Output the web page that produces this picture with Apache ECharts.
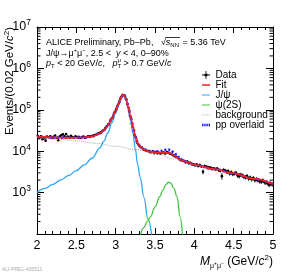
<!DOCTYPE html>
<html><head><meta charset="utf-8">
<script src="https://cdn.jsdelivr.net/npm/echarts@6/dist/echarts.min.js"></script>
<style>html,body{margin:0;padding:0;background:#fff}#c{width:288px;height:277px}</style>
</head><body><div id="c"></div>
<script>
// ---------- data ----------
const massBinStart = 2.01;   // first bin centre (GeV/c^2)
const massBinWidth = 0.02;
const dataCounts = [
 23500,21000,22800,19500,20500,18000,22500,21800,23000,20800,
 22200,24000,21000,18500,22800,24500,25500,23000,26000,22500,
 21500,23500,22000,21200,22800,21700,22300,20800,21900,22600,
 21200,22000,23000,22200,23100,23500,24500,25000,26500,27000,
 28500,30500,32500,36000,40500,45000,52500,62000,72000,90000,
 107000,132000,162000,200000,228000,225000,185000,138000,98000,67000,
 45000,32500,22500,17500,14500,13000,12200,11000,10800,10200,
 10100,9600,9400,9900,9000,9500,8900,9200,8700,9100,
 9300,8800,9500,9200,8700,8500,8000,7600,7300,6900,
 6400,6100,6000,5800,5400,5600,5100,5200,4900,4800,
 4600,4750,4400,4600,4300,3200,4400,4200,4100,4000,
 3950,3750,3800,3650,3800,3500,3400,2500,3500,3400,
 3200,3300,2900,3100,2800,2900,3000,2600,2500,2700,
 2600,2400,2350,2500,2200,2300,2100,2250,2000,2100,
 2000,1900,1850,1950,1800,1750,1700,1550,1650,1580];
const dataErrPct = [
 4,4,5,4,4,5,4,4,4,4, 4,4,4,5,4,4,4,4,4,4, 4,4,4,4,4,4,4,4,4,4,
 4,4,4,4,4,3,3,3,3,3, 3,3,3,2,2,2,2,2,2,2, 2,2,2,2,2,2,2,2,2,2,
 2,3,3,3,4,5,5,5,5,5, 5,5,6,6,6,6,6,6,6,6, 6,6,6,6,6,6,6,6,6,6,
 6,6,6,7,7,7,7,7,7,7, 8,8,8,8,8,14,8,9,9,9, 9,9,9,9,9,10,10,18,10,10,
 10,10,11,11,11,11,11,12,12,12, 12,12,12,12,12,12,12,12,12,12, 13,13,13,13,13,13,13,13,13,13];

const fitMass = [2.0,2.1,2.2,2.3,2.4,2.5,2.6,2.7,2.8,2.85,2.9,2.95,3.0,3.04,3.07,3.09,3.11,3.13,3.16,3.19,
 3.22,3.25,3.28,3.31,3.36,3.41,3.46,3.5,3.56,3.6,3.64,3.67,3.7,3.74,3.78,3.82,3.85,3.9,4.0,4.25,4.5,4.75,5.0];
const fitCounts = [22500,22000,21500,21200,21100,21200,21500,22700,27000,32000,41600,61600,96400,144800,203500,231400,226200,186000,116800,66500,
 38200,22200,15500,12900,10900,10060,9570,9350,9100,9050,9085,9078,8700,7860,7100,6260,5890,5500,4700,3700,2900,2150,1600];
const ppMass = fitMass;
const ppCounts = [22500,22000,21500,21200,21100,21200,21500,22700,27000,32000,41600,61600,96400,144800,203500,231400,226200,186000,116800,66500,
 38200,22200,15500,13000,11100,10300,9880,9840,9970,10300,10830,11030,10570,9250,7970,6540,5990,5500,4700,3700,2900,2150,1600];
const bkgMass = [2.0,2.25,2.5,2.75,3.0,3.25,3.5,3.75,4.0,4.25,4.5,4.75,5.0];
const bkgCounts = [21500,19500,17800,15500,13200,11000,8900,6500,4700,3700,2900,2150,1600];
const jpsiMass = [2.0,2.1,2.2,2.3,2.4,2.5,2.6,2.7,2.8,2.85,2.9,2.95,3.0,3.04,3.07,3.09,3.11,3.13,3.16,3.19,3.22,3.25,3.28,3.31,3.36,3.41,3.46];
const jpsiCounts = [1000,1260,1580,2000,2570,3390,4680,6760,12000,17400,27500,47900,83200,132000,191000,219000,214000,174000,105000,55000,26900,11200,4790,2400,760,229,89];
const psi2sMass = [3.31,3.36,3.4,3.44,3.5,3.56,3.6,3.64,3.67,3.7,3.74,3.78,3.82,3.85];
const psi2sCounts = [89,145,200,257,447,794,1150,1585,1778,1700,1259,794,257,89];

const xMin = 2, xMax = 5, xInterval = 0.5;
const yMin = 1e2, yMax = 1e7;
// ---------------------------------------------------

const zip = (xs, ys) => xs.map((x, i) => [x, ys[i]]);
const dataPts = dataCounts.map((c, i) => [massBinStart + i * massBinWidth, c, c * dataErrPct[i] / 100]);
const minorVals = [];
for (let e = 2; e < 7; e++) for (let k = 2; k <= 9; k++) minorVals.push([k * Math.pow(10, e)]);

const FONT = '"Liberation Sans", Arial, Helvetica, sans-serif';
const ctx = document.createElement('canvas').getContext('2d');
function fstr(s, it) { return (it ? 'italic ' : '') + s + 'px ' + FONT; }
function run(x, base, segs) {
  const els = []; let cx = x;
  for (const g of segs) {
    const f = fstr(g.s, g.i); ctx.font = f;
    const w = ctx.measureText(g.t).width;
    els.push({ type: 'text', x: cx, y: base + (g.dy || 0) - 0.31 * g.s, silent: true,
      style: { text: g.t, font: f, fill: '#000', verticalAlign: 'middle', align: 'left' } });
    if (!g.na) cx += w;
  }
  return { els, end: cx };
}

const S = 9;
const l1a = run(46, 45.5, [{ t: 'ALICE Preliminary, Pb–Pb,   ', s: S }]);
const sq = run(l1a.end, 45.5, [{ t: '√', s: S }]);
const l1b = run(sq.end, 45.5, [{ t: 's', s: S, i: true }, { t: 'NN', s: 6, dy: 2 }]);
const l1c = run(l1b.end + 1, 45.5, [{ t: ' = 5.36 TeV', s: S }]);
const l2 = run(46, 56.5, [{ t: 'J/ψ→μ', s: S }, { t: '+', s: 6, dy: -4 }, { t: 'μ', s: S }, { t: '−', s: 6, dy: -4 },
  { t: ', 2.5 <  ', s: S }, { t: 'y', s: S, i: true }, { t: ' < 4, 0–90%', s: S }]);
const l3 = run(46, 66.5, [{ t: 'p', s: S, i: true }, { t: 'T', s: 6, dy: 2 }, { t: ' < 20 GeV/', s: S }, { t: 'c', s: S, i: true },
  { t: ',   ', s: S }, { t: 'p', s: S, i: true }, { t: 'μ', s: 6, dy: -4, na: true }, { t: 'T', s: 6, dy: 2 },
  { t: ' > 0.7 GeV/', s: S }, { t: 'c', s: S, i: true }]);
const xtSegs = [{ t: 'M', s: 12, i: true }, { t: 'μ', s: 7, dy: 3 }, { t: '+', s: 5, dy: 0 }, { t: 'μ', s: 7, dy: 3 }, { t: '−', s: 5, dy: 0 },
  { t: ' (GeV/', s: 12 }, { t: 'c', s: 12, i: true }, { t: '2', s: 8, dy: -5 }, { t: ')', s: 12 }];
const probe = run(0, 0, xtSegs);
const xt = run(273 - probe.end, 265, xtSegs);

const graphics = [].concat(l1a.els, sq.els, l1b.els, l1c.els, l2.els, l3.els, xt.els, [
  { type: 'line', silent: true, shape: { x1: sq.end - 0.5, y1: 37.5, x2: l1b.end + 1, y2: 37.5 }, style: { stroke: '#000', lineWidth: 0.8 } },
  { type: 'text', x: 10, y: 27, rotation: Math.PI / 2, silent: true,
    style: { text: '{n|Events/(0.02 GeV/}{i|c}{s|2}{n|)}', align: 'right', verticalAlign: 'middle',
      rich: { n: { font: fstr(11.5), fill: '#000' }, i: { font: fstr(11.5, true), fill: '#000' }, s: { font: fstr(8), fill: '#000', padding: [0, 0, 7, 0] } } } },
  { type: 'text', x: 2, y: 270, silent: true, style: { text: 'ALI-PREL-400511', font: fstr(5), fill: '#aaa', verticalAlign: 'middle' } }
]);

// legend icons (10x10 box kept by tiny corner anchors)
const A = 'M0,0h0.01v0.01h-0.01zM9.99,9.99h0.01v0.01h-0.01z';
const iconData = 'path://' + A + 'M4.5,0h1v10h-1zM0,4.5h10v1h-10zM3.3,3.3h3.4v3.4h-3.4z';
const iconLine = t => 'path://' + A + 'M0,' + (5 - t / 2) + 'h10v' + t + 'h-10z';
const iconBkg = 'path://' + A + 'M0,4.4h1v1.2h-1zM2.25,4.4h1v1.2h-1zM4.5,4.4h1v1.2h-1zM6.75,4.4h1v1.2h-1zM9,4.4h1v1.2h-1z';
const iconPP = 'path://' + A + 'M0,3.4h1.8v3.2h-1.8zM2.73,3.4h1.8v3.2h-1.8zM5.47,3.4h1.8v3.2h-1.8zM8.2,3.4h1.8v3.2h-1.8z';

const chart = echarts.init(document.getElementById('c'), null, { renderer: 'canvas' });
const axisCommon = { axisLine: { show: true, onZero: false, lineStyle: { color: '#000', width: 1 } }, splitLine: { show: false } };
chart.setOption({
  animation: false,
  backgroundColor: '#fff',
  grid: { left: 37, right: 15, top: 27, bottom: 43 },
  xAxis: [
    Object.assign({ type: 'value', min: xMin, max: xMax, interval: xInterval, position: 'bottom',
      axisTick: { show: true, inside: true, length: 6, lineStyle: { color: '#000' } },
      minorTick: { show: true, splitNumber: 5, length: 3, lineStyle: { color: '#000' } },
      axisLabel: { fontSize: 12.5, fontFamily: FONT, color: '#000', margin: 5 } }, axisCommon),
    Object.assign({ type: 'value', min: xMin, max: xMax, interval: xInterval, position: 'top',
      axisTick: { show: true, inside: true, length: 6, lineStyle: { color: '#000' } },
      minorTick: { show: true, splitNumber: 5, length: 3, lineStyle: { color: '#000' } },
      axisLabel: { show: false } }, axisCommon)
  ],
  yAxis: [
    Object.assign({ type: 'log', logBase: 10, min: yMin, max: yMax, position: 'left',
      axisTick: { show: true, inside: true, length: 7, lineStyle: { color: '#000' } },
      axisLabel: { margin: 6, color: '#000', showMinLabel: false,
        formatter: v => '{a|10}{b|' + Math.round(Math.log10(v)) + '}',
        rich: { a: { fontSize: 12.5, fontFamily: FONT, color: '#000' }, b: { fontSize: 8.5, fontFamily: FONT, color: '#000', padding: [0, 0, 8, 0] } } } }, axisCommon),
    Object.assign({ type: 'log', logBase: 10, min: yMin, max: yMax, position: 'right',
      axisTick: { show: true, inside: true, length: 7, lineStyle: { color: '#000' } },
      axisLabel: { show: false } }, axisCommon)
  ],
  legend: {
    orient: 'vertical', left: 202, top: 70, itemWidth: 9, itemHeight: 8, itemGap: 0, padding: 0,
    textStyle: { fontSize: 10, fontFamily: FONT, color: '#000', lineHeight: 9.8 },
    itemStyle: { borderWidth: 0 },
    selectedMode: false,
    data: [
      { name: 'Data', icon: iconData },
      { name: 'Fit', icon: iconLine(2) },
      { name: 'J/ψ', icon: iconLine(1.5) },
      { name: 'ψ(2S)', icon: iconLine(1.5) },
      { name: 'background', icon: iconBkg },
      { name: 'pp overlaid', icon: iconPP }
    ]
  },
  series: [
    { type: 'custom', name: 'minor-ticks', silent: true, clip: false, z: 1, data: minorVals,
      renderItem: (params, api) => {
        const v = api.value(0);
        const L = api.coord([xMin, v]), R = api.coord([xMax, v]);
        return { type: 'group', children: [
          { type: 'line', shape: { x1: L[0], y1: L[1], x2: L[0] + 3.5, y2: L[1] }, style: { stroke: '#000', lineWidth: 1 } },
          { type: 'line', shape: { x1: R[0] - 3.5, y1: R[1], x2: R[0], y2: R[1] }, style: { stroke: '#000', lineWidth: 1 } }] };
      } },
    { type: 'custom', name: 'Data', z: 2, itemStyle: { color: '#000' }, data: dataPts,
      renderItem: (params, api) => {
        const x = api.value(0), y = api.value(1), e = api.value(2);
        const c = api.coord([x, y]), lo = api.coord([x, y - e]), hi = api.coord([x, y + e]);
        const l = api.coord([x - massBinWidth / 2, y]), r = api.coord([x + massBinWidth / 2, y]);
        return { type: 'group', children: [
          { type: 'line', shape: { x1: c[0], y1: lo[1], x2: c[0], y2: hi[1] }, style: { stroke: '#000', lineWidth: 0.9 } },
          { type: 'line', shape: { x1: l[0], y1: c[1], x2: r[0], y2: c[1] }, style: { stroke: '#000', lineWidth: 0.9 } },
          { type: 'circle', shape: { cx: c[0], cy: c[1], r: 1.3 }, style: { fill: '#000' } }] };
      } },
    { type: 'line', name: 'background', z: 3, data: zip(bkgMass, bkgCounts), symbol: 'none', smooth: 0.4, smoothMonotone: 'x',
      lineStyle: { color: '#aaaaaa', width: 1, type: 'dotted' }, itemStyle: { color: '#aaaaaa' } },
    { type: 'line', name: 'J/ψ', z: 4, data: zip(jpsiMass, jpsiCounts), symbol: 'none', smooth: 0.4, smoothMonotone: 'x',
      lineStyle: { color: '#2aa6f2', width: 1.3 }, itemStyle: { color: '#2aa6f2' } },
    { type: 'line', name: 'ψ(2S)', z: 4, data: zip(psi2sMass, psi2sCounts), symbol: 'none', smooth: 0.4, smoothMonotone: 'x',
      lineStyle: { color: '#3fc63f', width: 1.3 }, itemStyle: { color: '#3fc63f' } },
    { type: 'line', name: 'pp overlaid', z: 5, data: zip(ppMass, ppCounts), symbol: 'none', smooth: 0.4, smoothMonotone: 'x',
      lineStyle: { color: '#1a1aff', width: 2.6, type: [2, 2] }, itemStyle: { color: '#1a1aff' } },
    { type: 'line', name: 'Fit', z: 6, data: zip(fitMass, fitCounts), symbol: 'none', smooth: 0.4, smoothMonotone: 'x',
      lineStyle: { color: '#f2222a', width: 1.8 }, itemStyle: { color: '#f2222a' } }
  ],
  graphic: graphics
});
</script></body></html>
